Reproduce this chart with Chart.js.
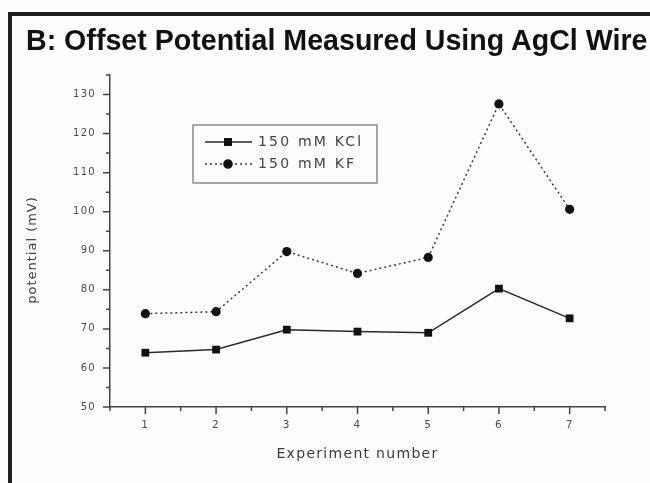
<!DOCTYPE html>
<html>
<head>
<meta charset="utf-8">
<script src="https://cdn.jsdelivr.net/npm/chart.js@4.4.1/dist/chart.umd.min.js"></script>
<style>
  html, body { margin: 0; padding: 0; background: #fff; }
  #wrap { position: relative; width: 650px; height: 483px; overflow: hidden; background: #fdfdfd; }
  #frame { position: absolute; left: 8px; top: 12px; width: 700px; height: 500px;
           border-left: 4px solid #1e1e1e; border-top: 4px solid #1e1e1e; }
  #title { position: absolute; left: 26px; top: 26px; white-space: nowrap;
           font: bold 28.6px "Liberation Sans", Arial, sans-serif; line-height: 28px; color: #111; }
  #chart { position: absolute; left: 0; top: 0; }
</style>
</head>
<body>
<div id="wrap">
  <div id="frame"></div>
  <canvas id="chart" width="650" height="483"></canvas>
  <div id="title">B: Offset Potential Measured Using AgCl Wire</div>
</div>
<script>
// data
const experiments = [1, 2, 3, 4, 5, 6, 7];
const kclValues = [63.9, 64.7, 69.8, 69.3, 69.0, 80.3, 72.7];
const kfValues = [73.9, 74.4, 89.8, 84.2, 88.3, 127.6, 100.6];
const seriesLabels = ['150 mM KCl', '150 mM KF'];
const xTitle = 'Experiment number';
const yTitle = 'potential (mV)';

const textFont = '"DejaVu Sans", sans-serif';

// ticks, legend box and y title drawn with the chart's own scales
const extras = {
  id: 'extras',
  beforeDraw(chart) {
    chart.ctx.letterSpacing = '1.3px';
  },
  afterDraw(chart) {
    const ctx = chart.ctx;
    const xs = chart.scales.x, ys = chart.scales.y;
    ctx.save();
    ctx.strokeStyle = '#444';
    ctx.lineWidth = 1.5;
    ctx.beginPath();
    for (let v = 50; v <= 135; v += 5) {
      const py = ys.getPixelForValue(v);
      const len = v % 10 === 0 ? 7 : 4;
      ctx.moveTo(xs.left - len, py);
      ctx.lineTo(xs.left, py);
    }
    for (let v = 0.5; v <= 7.5; v += 0.5) {
      const px = xs.getPixelForValue(v);
      const len = Number.isInteger(v) ? 7 : 4;
      ctx.moveTo(px, ys.bottom);
      ctx.lineTo(px, ys.bottom + len);
    }
    ctx.stroke();

    // y title
    ctx.fillStyle = '#3a3a3a';
    ctx.font = '13px ' + textFont;
    ctx.letterSpacing = '1px';
    ctx.textAlign = 'center';
    ctx.textBaseline = 'middle';
    ctx.translate(33, 250);
    ctx.rotate(-Math.PI / 2);
    ctx.fillText(yTitle, 0, 0);
    ctx.restore();

    // legend
    ctx.save();
    ctx.strokeStyle = '#8a8a8a';
    ctx.lineWidth = 1.5;
    ctx.strokeRect(193, 125, 184, 58);
    chart.data.datasets.forEach((ds, i) => {
      const ly = 142 + 22 * i;
      ctx.strokeStyle = ds.borderColor;
      ctx.lineWidth = ds.borderWidth;
      ctx.setLineDash(ds.borderDash || []);
      ctx.beginPath();
      ctx.moveTo(205, ly);
      ctx.lineTo(252, ly);
      ctx.stroke();
      ctx.setLineDash([]);
      ctx.fillStyle = ds.pointBackgroundColor;
      Chart.helpers.drawPoint(ctx, { pointStyle: ds.pointStyle, radius: ds.pointRadius, rotation: 0, borderWidth: 0 }, 228, ly);
      ctx.fill();
      ctx.fillStyle = '#444';
      ctx.font = '14px ' + textFont;
      ctx.letterSpacing = '2.2px';
      ctx.textAlign = 'left';
      ctx.textBaseline = 'middle';
      ctx.fillText(ds.label, 258, ly);
    });
    ctx.restore();
  }
};

new Chart(document.getElementById('chart'), {
  type: 'line',
  data: {
    datasets: [{
      label: seriesLabels[0],
      data: experiments.map((x, i) => ({ x: x, y: kclValues[i] })),
      borderColor: '#2a2a2a',
      borderWidth: 1.5,
      pointStyle: 'rect',
      pointRadius: 5.5,
      pointBackgroundColor: '#111',
      pointBorderWidth: 0
    }, {
      label: seriesLabels[1],
      data: experiments.map((x, i) => ({ x: x, y: kfValues[i] })),
      borderColor: '#3a3a3a',
      borderWidth: 1.5,
      borderDash: [2, 3],
      pointStyle: 'circle',
      pointRadius: 4.6,
      pointBackgroundColor: '#111',
      pointBorderWidth: 0
    }]
  },
  options: {
    responsive: false,
    animation: false,
    layout: { padding: { top: 75, right: 45, left: 0, bottom: 0 } },
    plugins: {
      legend: { display: false },
      tooltip: { enabled: false }
    },
    scales: {
      x: {
        type: 'linear',
        min: 0.5,
        max: 7.5,
        afterFit: s => { s.height = 76; },
        border: { display: true, color: '#444', width: 1.5 },
        grid: { display: false, drawTicks: false },
        ticks: {
          stepSize: 0.5,
          autoSkip: false,
          maxRotation: 0,
          padding: 12,
          color: '#4a4a4a',
          font: { family: textFont, size: 10.5 },
          callback: v => Number.isInteger(v) ? String(v) : ''
        },
        title: {
          display: true,
          text: xTitle,
          color: '#3a3a3a',
          font: { family: textFont, size: 14 },
          padding: { top: 0, bottom: 20 }
        }
      },
      y: {
        min: 50,
        max: 135,
        afterFit: s => { s.width = 110; },
        border: { display: true, color: '#444', width: 1.5 },
        grid: { display: false, drawTicks: false },
        ticks: {
          stepSize: 5,
          autoSkip: false,
          padding: 14,
          color: '#4a4a4a',
          font: { family: textFont, size: 10 },
          callback: v => v % 10 === 0 ? String(v) : ''
        }
      }
    }
  },
  plugins: [extras]
});
</script>
</body>
</html>
